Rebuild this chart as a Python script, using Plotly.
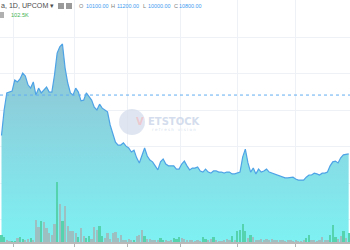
import plotly.graph_objects as go

# ---------------- data ----------------
days = list(range(132))

price = [
    11300, 12000, 12470, 12490, 12520, 12820, 12770, 12850, 13010, 12930,
    12690, 12600, 12770, 12410, 12600, 12470, 12550, 12630, 12490, 12490,
    12960, 13560, 13730, 13810, 13150, 12740, 12470, 12410, 12600, 12490,
    12250, 12270, 12470, 12380, 12270, 12080, 12000, 12160, 12050, 12000,
    11950, 11590, 11320, 11120, 11040, 11040, 11100, 11010, 10960, 10850,
    10900, 10690, 10550, 10770, 10960, 10740, 10630, 10580, 10470, 10360,
    10580, 10660, 10520, 10470, 10470, 10470, 10380, 10380, 10520, 10600,
    10470, 10360, 10410, 10410, 10440, 10330, 10300, 10380, 10300, 10270,
    10330, 10330, 10300, 10300, 10270, 10300, 10300, 10250, 10250, 10270,
    10300, 10710, 10930, 10550, 10300, 10410, 10250, 10380, 10300, 10330,
    10380, 10300, 10270, 10250, 10220, 10190, 10160, 10140, 10140, 10160,
    10160, 10110, 10080, 10080, 10080, 10160, 10220, 10220, 10270, 10250,
    10220, 10270, 10270, 10300, 10470, 10580, 10600, 10550, 10690, 10770,
    10790, 10800,
]

volume_k = [
    76, 54, 26, 11, 8, 11, 46, 54, 38, 23,
    38, 46, 17, 254, 168, 243, 228, 160, 103, 83,
    209, 681, 433, 236, 407, 179, 129, 129, 103, 54,
    160, 65, 46, 65, 38, 171, 133, 186, 65, 46,
    103, 34, 103, 114, 46, 83, 23, 26, 38, 17,
    23, 65, 83, 133, 65, 34, 38, 26, 26, 17,
    46, 26, 15, 11, 26, 46, 34, 54, 40, 38,
    17, 26, 26, 11, 17, 11, 54, 34, 17, 38,
    54, 17, 11, 11, 17, 38, 17, 65, 17, 122,
    140, 205, 122, 46, 76, 54, 23, 17, 38, 17,
    38, 17, 38, 17, 26, 17, 26, 11, 17, 26,
    11, 26, 11, 11, 17, 46, 76, 26, 17, 11,
    17, 54, 17, 26, 76, 197, 54, 38, 65, 122,
    46, 102.5,
]

# 1 = up day (green volume), 0 = down day
volume_up = [
    1, 1, 0, 0, 1, 1, 0, 1, 1, 0,
    0, 1, 0, 0, 0, 1, 0, 0, 0, 0,
    0, 1, 0, 1, 0, 0, 0, 0, 0, 1,
    0, 0, 1, 1, 0, 0, 0, 1, 1, 0,
    0, 0, 0, 0, 0, 0, 0, 0, 0, 0,
    1, 0, 0, 0, 1, 0, 0, 0, 0, 0,
    1, 1, 0, 0, 0, 1, 1, 1, 0, 0,
    0, 0, 0, 0, 0, 0, 1, 1, 0, 0,
    1, 0, 0, 0, 0, 0, 0, 1, 0, 1,
    1, 1, 1, 0, 1, 0, 0, 0, 0, 0,
    0, 0, 0, 0, 0, 0, 0, 0, 0, 0,
    0, 0, 0, 0, 0, 1, 1, 0, 0, 0,
    0, 0, 0, 0, 1, 1, 1, 0, 0, 1,
    0, 1,
]

month_ticks = [4.7, 27.7, 47.7, 67.4, 89.2, 110.8]
ref_price = 12410
ohlc_labels = ["O", "H", "L", "C"]
ohlc_values = ["10100.00", "11200.00", "10000.00", "10800.00"]
symbol_text = "a, 1D, UPCOM"
last_volume_text = "102.5K"

# ---------------- figure ----------------
W, H, PH = 350, 250, 242
y_lo, y_hi = 8384, 15014

vol_colors = ["#55d3ae" if u else "#9dbfc1" for u in volume_up]

fig = go.Figure()
fig.add_trace(go.Scatter(
    x=days, y=price, mode="lines",
    line=dict(color="#4ea3e6", width=1.2),
    fill="tozeroy",
    fillgradient=dict(type="vertical", start=y_lo, stop=y_hi,
                      colorscale=[[0, "#7ef1f3"], [1, "#96b6ca"]]),
    hoverinfo="skip", showlegend=False,
))
fig.add_trace(go.Bar(
    x=days, y=volume_k, yaxis="y2",
    marker=dict(color=vol_colors, line=dict(width=0)),
    width=0.85, hoverinfo="skip", showlegend=False,
))

def px(xp):
    return xp / W

def py(yp):
    return 1 - yp / PH

annotations = []
font_base = "Liberation Sans, Arial, sans-serif"
annotations.append(dict(x=px(-1), y=py(6), xref="paper", yref="paper",
                        text=symbol_text + " ▾", showarrow=False,
                        xanchor="left", yanchor="middle",
                        font=dict(family=font_base, size=7.1, color="#4d4d4d")))
lab_x = [77, 108.5, 140.5, 172]
val_x = [83.5, 115, 146, 177]
for lx, vx, lab, val in zip(lab_x, val_x, ohlc_labels, ohlc_values):
    annotations.append(dict(x=px(lx), y=py(6), xref="paper", yref="paper",
                            text=lab, showarrow=False, xanchor="left", yanchor="middle",
                            font=dict(family=font_base, size=5.6, color="#808080")))
    annotations.append(dict(x=px(vx), y=py(6), xref="paper", yref="paper",
                            text=val, showarrow=False, xanchor="left", yanchor="middle",
                            font=dict(family=font_base, size=5.4, color="#3d9cf0")))
annotations.append(dict(x=px(9), y=py(15), xref="paper", yref="paper",
                        text=last_volume_text, showarrow=False,
                        xanchor="left", yanchor="middle",
                        font=dict(family=font_base, size=5.6, color="#43b455")))
# watermark
annotations.append(dict(x=px(134), y=py(121), xref="paper", yref="paper",
                        text="<b>V</b>", showarrow=False, xanchor="left", yanchor="middle",
                        font=dict(family="DejaVu Sans", size=10, color="rgba(240,190,196,0.75)")))
annotations.append(dict(x=px(146), y=py(121), xref="paper", yref="paper",
                        text="<b>ETSTOCK</b>", showarrow=False, xanchor="left", yanchor="middle",
                        font=dict(family="DejaVu Sans", size=10, color="rgba(200,212,232,0.8)")))
annotations.append(dict(x=px(150), y=py(129), xref="paper", yref="paper",
                        text="r e f r e s h   v i s i o n", showarrow=False,
                        xanchor="left", yanchor="middle",
                        font=dict(family="DejaVu Sans", size=4, color="rgba(200,212,232,0.8)")))

shapes = [
    dict(type="line", xref="paper", yref="y", x0=0, x1=1, y0=ref_price, y1=ref_price,
         line=dict(color="#62aef2", width=1, dash="dot"), layer="above"),
    # header icons
    dict(type="rect", xref="paper", yref="paper", x0=px(58), x1=px(64), y0=py(9), y1=py(3),
         fillcolor="#9a9a9a", line=dict(width=0)),
    dict(type="rect", xref="paper", yref="paper", x0=px(66), x1=px(72), y0=py(9), y1=py(3),
         fillcolor="#9a9a9a", line=dict(width=0)),
    dict(type="rect", xref="paper", yref="paper", x0=px(0), x1=px(4), y0=py(18), y1=py(12),
         fillcolor="#b0b0b0", line=dict(width=0)),
    # watermark logo
    dict(type="circle", xref="paper", yref="paper", x0=px(119), x1=px(145),
         y0=py(135), y1=py(109), fillcolor="rgba(214,222,236,0.75)",
         line=dict(width=0), layer="above"),
]

fig.update_layout(
    width=W, height=H,
    margin=dict(l=0, r=0, t=0, b=8, pad=0),
    paper_bgcolor="white", plot_bgcolor="white",
    bargap=0,
    xaxis=dict(range=[-0.566, 131.5], tickvals=month_ticks, showticklabels=False,
               ticks="outside", ticklen=3, tickcolor="#b5b5b5",
               showgrid=True, gridcolor="#eef1f6", gridwidth=1,
               showline=True, linecolor="#b8b8b8", linewidth=1.5,
               zeroline=False, fixedrange=True),
    yaxis=dict(range=[y_lo, y_hi], dtick=1000, tick0=0, showticklabels=False,
               showgrid=True, gridcolor="#eef1f6", zeroline=False, fixedrange=True),
    yaxis2=dict(range=[0, 2760], overlaying="y", showgrid=False,
                showticklabels=False, zeroline=False, fixedrange=True),
    annotations=annotations, shapes=shapes,
)

fig.write_html("out.html", config={"displayModeBar": False})
